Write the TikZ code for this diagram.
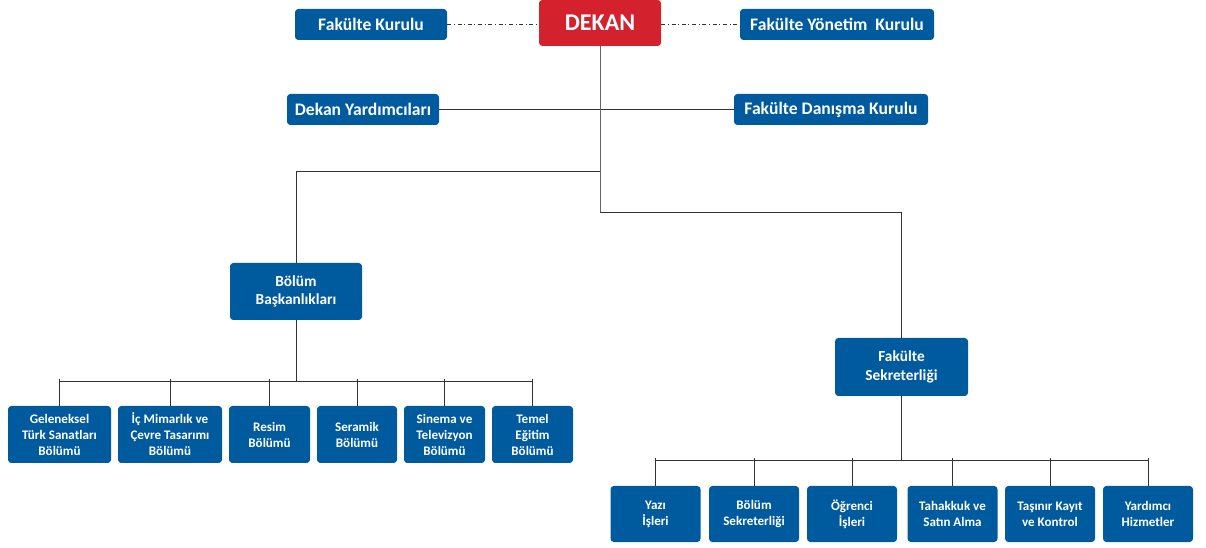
\documentclass[tikz,border=0pt]{standalone}
\usepackage{fontspec}
\setmainfont{Carlito}
\definecolor{unitblue}{RGB}{0, 91, 158}
\definecolor{dekanred}{RGB}{211, 33, 45}
\newcommand{\topfont}{\bfseries\fontsize{13.2}{15}\selectfont}
\newcommand{\midfont}{\bfseries\fontsize{11.5}{14}\selectfont}
\newcommand{\deptfont}{\bfseries\fontsize{9.8}{12}\selectfont}
\newcommand{\dekanfont}{\bfseries\fontsize{18}{20}\selectfont}

\tikzset{
  unit/.style={fill=unitblue, text=white, rounded corners=2.5pt, align=center, inner sep=0pt},
  topunit/.style={unit, font=\topfont, minimum height=23.25pt},
  dept/.style={unit, font=\deptfont, minimum height=42.75pt},
  office/.style={unit, font=\deptfont, minimum height=42pt, minimum width=67.5pt},
  link/.style={draw=black!80, line width=0.7pt}
}

\begin{document}
\begin{tikzpicture}[x=0.75pt,y=-0.75pt]
\useasboundingbox (0,0) rectangle (1206,548);

\node[unit, fill=dekanred, font=\dekanfont, minimum width=91.5pt, minimum height=34.5pt] (dekan) at (600,23) {DEKAN};
\node[topunit, minimum width=114pt] (fkurul) at (371,24.5) {Fakülte Kurulu};
\node[topunit, minimum width=145.5pt] (fyonetim) at (837,24.5) {Fakülte Yönetim~ Kurulu};
\node[topunit, minimum width=114pt] (yardimci) at (363,109.5) {Dekan Yardımcıları};
\node[topunit, minimum width=145.5pt] (danisma) at (831,109.5) {Fakülte Danışma Kurulu};

\node[dept, font=\midfont, minimum width=99pt] (baskan) at (296,291.5) {Bölüm\\Başkanlıkları};
\node[dept, font=\midfont, minimum width=99.75pt, minimum height=43.5pt] (sekreter) at (901.5,367) {Fakülte\\Sekreterliği};

% bolumler
\node[dept, minimum width=77.25pt] (b1) at (59.5,434.5) {Geleneksel\\Türk Sanatları\\Bölümü};
\node[dept, minimum width=78pt] (b2) at (170,434.5) {İç Mimarlık ve\\Çevre Tasarımı\\Bölümü};
\node[dept, minimum width=60.75pt] (b3) at (269.5,434.5) {Resim\\Bölümü};
\node[dept, minimum width=60pt] (b4) at (357,434.5) {Seramik\\Bölümü};
\node[dept, minimum width=60.75pt] (b5) at (444.5,434.5) {Sinema ve\\Televizyon\\Bölümü};
\node[dept, minimum width=60.75pt] (b6) at (532.5,434.5) {Temel\\Eğitim\\Bölümü};

% sekreterlik birimleri
\node[office] (s1) at (655.5,514) {Yazı\\İşleri};
\node[office] (s2) at (754,514) {Bölüm\\Sekreterliği};
\node[office] (s3) at (852,514) {Öğrenci\\İşleri};
\node[office] (s4) at (952.5,514) {Tahakkuk ve\\Satın Alma};
\node[office] (s5) at (1050,514) {Taşınır Kayıt\\ve Kontrol};
\node[office] (s6) at (1148,514) {Yardımcı\\Hizmetler};

\coordinate (split) at (600,171);
\coordinate (spine) at (600,212);
\coordinate (bbus) at (296,381);
\coordinate (sbus) at (901.5,460);

\draw[link, dash dot] (fkurul.east) -- (fkurul.east -| dekan.west);
\draw[link, dash dot] (dekan.east |- fyonetim.west) -- (fyonetim.west);
\draw[link] (yardimci.east) -- (danisma.west);
\draw[link, draw=black!60] (dekan.south) -- (spine);
\draw[link] (spine) -| (sekreter.north);
\draw[link] (split) -| (baskan.north);

\draw[link] (baskan.south) -- (bbus);
\draw[link] (b1.north |- bbus) -- (b6.north |- bbus);
\foreach \i in {1,...,6}
  \draw[link] (b\i.north) -- ([yshift=1.5pt]b\i.north |- bbus);

\draw[link] (sekreter.south) -- (sbus);
\draw[link] (s1.north |- sbus) -- (s6.north |- sbus);
\foreach \i in {1,...,6}
  \draw[link] (s\i.north) -- ([yshift=1.5pt]s\i.north |- sbus);

\end{tikzpicture}
\end{document}
